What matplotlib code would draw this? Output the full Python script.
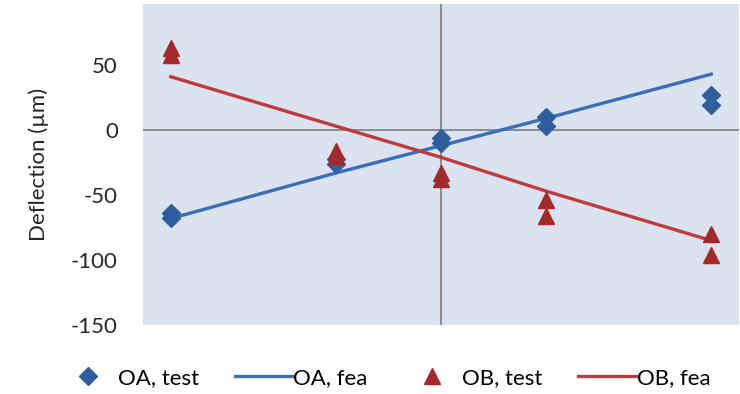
import matplotlib.pyplot as plt
from matplotlib.lines import Line2D

plt.rcParams['font.family'] = ['Lato', 'DejaVu Sans']
plt.rcParams['axes.unicode_minus'] = False

# gauge positions along the span (only relative spacing matters, no x labels)
positions = [-270, -105, 0, 105, 270]

# measured deflections, two readings at each gauge
oa_test_1 = [-64, -22, -6, 10, 27]
oa_test_2 = [-68, -26, -10, 3, 19]
ob_test_1 = [63, -16, -33, -54, -80]
ob_test_2 = [58, -20, -38, -66, -96]

# finite element predictions
oa_fea = [-68, -33, -12, 9, 43]
ob_fea = [41, 3, -21, -47, -85]

blue_mk = '#2f5e9e'
blue_ln = '#3a6dbb'
red_mk = '#a3292b'
red_ln = '#c0393b'
axis_grey = '#8c8c8c'

fig = plt.figure(figsize=(7.4, 3.94), dpi=100)
ax = fig.add_axes([0.193, 0.175, 0.806, 0.815])
ax.set_facecolor('#dae3ef')

ax.axhline(0, color=axis_grey, lw=1.4, zorder=1)
ax.axvline(0, color=axis_grey, lw=1.4, zorder=1)

ax.plot(positions, oa_fea, color=blue_ln, lw=2.4, zorder=2)
ax.plot(positions, ob_fea, color=red_ln, lw=2.4, zorder=2)
for vals in (oa_test_1, oa_test_2):
    ax.plot(positions, vals, ls='none', marker='D', ms=9, color=blue_mk, zorder=3)
for vals in (ob_test_1, ob_test_2):
    ax.plot(positions, vals, ls='none', marker='^', ms=11.5, color=red_mk, zorder=3)

ax.set_xlim(-298, 298)
ax.set_ylim(-150, 97)
ax.set_yticks([-150, -100, -50, 0, 50])
ax.set_xticks([])
ax.tick_params(axis='y', length=0, pad=18, labelsize=16, labelcolor='#262626')
for s in ax.spines.values():
    s.set_visible(False)
ax.set_ylabel('Deflection (µm)', fontsize=16, color='#262626', labelpad=16)

handles = [
    Line2D([], [], ls='none', marker='D', ms=9, color=blue_mk),
    Line2D([], [], color=blue_ln, lw=2.4),
    Line2D([], [], ls='none', marker='^', ms=11.5, color=red_mk),
    Line2D([], [], color=red_ln, lw=2.4),
]
fig.legend(handles, ['OA, test', 'OA, fea', 'OB, test', 'OB, fea'],
           loc='center', bbox_to_anchor=(0.52, 0.04), ncol=4, frameon=False,
           fontsize=16, handlelength=2.6, columnspacing=1.6, handletextpad=0.05)

fig.savefig('out.png', dpi=100)
